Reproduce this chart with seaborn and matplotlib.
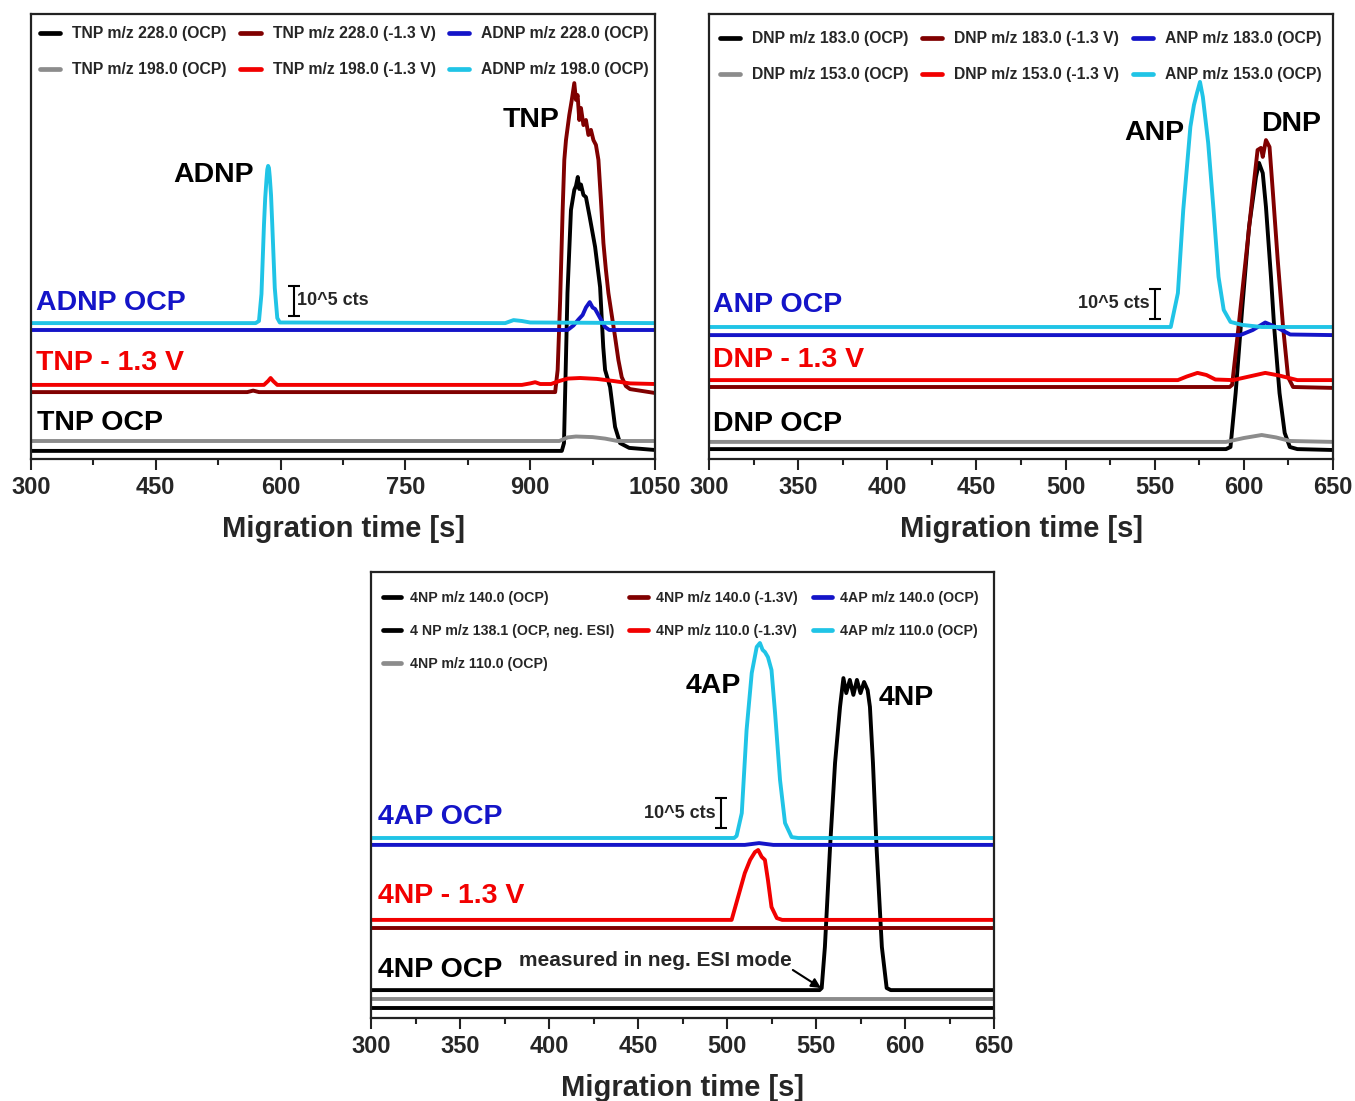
import matplotlib
matplotlib.use("Agg")
import matplotlib.pyplot as plt
import seaborn as sns
import pandas as pd

sns.set_style("ticks")
plt.rcParams["font.family"] = ["Liberation Sans", "DejaVu Sans"]
plt.rcParams["font.weight"] = "bold"

# ---- colours -------------------------------------------------------------
BLACK = "#000000"
GRAY = "#8c8c8c"
DARKRED = "#800000"
RED = "#f20000"
BLUE = "#1414c8"
CYAN = "#20c4e6"

# ---- panel A: TNP / ADNP (signal in 10^5 cts, stacked with offsets) -------
tnp228_ocp_t = [300, 938, 940.6, 944.8, 949, 953, 955, 957.2, 959, 961, 964, 967, 971.5,
                978, 984, 987.8, 990, 996, 1002, 1008, 1019, 1050]
tnp228_ocp_y = [0.27, 0.27, 0.53, 5.53, 8.3, 8.97, 9.1, 9.4, 9.0, 9.15, 8.8, 8.73, 8.07,
                7.07, 5.73, 3.73, 2.97, 2.4, 1.07, 0.53, 0.37, 0.3]
tnp198_ocp_t = [300, 935, 945, 955, 975, 990, 1005, 1050]
tnp198_ocp_y = [0.6, 0.6, 0.72, 0.75, 0.73, 0.68, 0.6, 0.6]
tnp228_red_t = [300, 560, 567, 574, 930, 933, 936, 939, 941, 943, 947, 950, 953, 955, 957,
                959, 961, 964, 967, 970, 973, 976, 979, 982, 985, 988, 991, 994, 998,
                1002, 1006, 1010, 1015, 1020, 1050]
tnp228_red_y = [2.23, 2.23, 2.28, 2.23, 2.23, 2.97, 5.3, 8.3, 9.97, 10.63, 11.47, 11.97, 12.53,
                11.97, 12.13, 11.3, 11.7, 11.13, 11.3, 10.8, 10.97, 10.63, 10.47, 9.97,
                8.63, 7.2, 6.3, 5.53, 4.8, 4.07, 3.3, 2.73, 2.43, 2.33, 2.2]
tnp198_red_t = [300, 580, 585, 588, 591, 596, 890, 900, 906, 912, 925, 935, 945, 960, 980,
                1000, 1020, 1050]
tnp198_red_y = [2.47, 2.47, 2.6, 2.7, 2.6, 2.47, 2.47, 2.52, 2.56, 2.5, 2.5, 2.6, 2.68, 2.7,
                2.67, 2.6, 2.52, 2.5]
adnp228_t = [300, 945, 952, 958, 963, 967, 971.5, 975, 978, 982, 986, 990, 995, 1050]
adnp228_y = [4.3, 4.3, 4.45, 4.65, 4.8, 5.05, 5.23, 5.05, 5.0, 4.8, 4.6, 4.4, 4.3, 4.3]
adnp198_t = [300, 570, 574, 577, 580, 581.5, 583, 584, 585, 586, 587, 588.5, 590, 593, 596,
             599, 870, 880, 890, 900, 1050]
adnp198_y = [4.53, 4.53, 4.6, 5.5, 7.8, 8.7, 9.3, 9.65, 9.77, 9.7, 9.4, 8.8, 7.8, 5.7, 4.7,
             4.55, 4.53, 4.63, 4.6, 4.55, 4.53]

# ---- panel B: DNP / ANP ---------------------------------------------------
dnp183_ocp_t = [300, 590, 592.5, 595.4, 599, 602.9, 606.8, 608.5, 610.6, 612.4, 615.2, 617,
                620, 622.9, 625.8, 630, 650]
dnp183_ocp_y = [0.33, 0.33, 0.4, 2.2, 4.97, 7.73, 9.4, 9.87, 9.53, 8.4, 6.07, 4.4, 2.2, 0.87,
                0.4, 0.33, 0.3]
dnp153_ocp_t = [300, 590, 600, 610, 618, 626, 650]
dnp153_ocp_y = [0.57, 0.57, 0.7, 0.8, 0.72, 0.6, 0.57]
dnp183_red_t = [300, 592, 593.4, 597, 601, 605, 607.7, 609.6, 610.6, 612.4, 614.4, 616.3, 619,
                622, 624.8, 627.6, 650]
dnp183_red_y = [2.4, 2.4, 2.47, 4.4, 6.63, 8.87, 10.3, 10.37, 10.07, 10.63, 10.4, 8.87, 6.63,
                4.4, 2.73, 2.4, 2.37]
dnp153_red_t = [300, 563, 568, 574, 579, 584, 594, 603, 612, 620, 630, 650]
dnp153_red_y = [2.63, 2.63, 2.75, 2.87, 2.8, 2.65, 2.63, 2.75, 2.87, 2.78, 2.63, 2.63]
anp183_t = [300, 598, 605, 612, 618, 626, 650]
anp183_y = [4.13, 4.13, 4.3, 4.55, 4.4, 4.15, 4.13]
anp153_t = [300, 559, 563, 566, 570, 572, 573.7, 575.4, 577, 580, 583, 585.8, 588.7, 592.5,
            599, 610, 650]
anp153_y = [4.4, 4.4, 5.53, 8.3, 11.07, 11.8, 12.2, 12.57, 12.07, 10.53, 8.3, 6.07, 4.97,
            4.57, 4.47, 4.4, 4.4]

# ---- panel C: 4NP / 4AP ---------------------------------------------------
np140_ocp_t = [300, 650]
np140_ocp_y = [0.33, 0.33]
np138_neg_t = [300, 552, 553.2, 555, 557.9, 560.7, 563.5, 565.4, 567, 569, 571, 573, 575, 577,
               579, 580.3, 582, 584, 587, 589.7, 592, 650]
np138_neg_y = [0.93, 0.93, 1.0, 2.37, 5.7, 8.5, 10.37, 11.33, 10.83, 11.27, 10.77, 11.27,
               10.83, 11.2, 10.93, 10.37, 8.5, 5.7, 2.37, 1.0, 0.93, 0.93]
np110_ocp_t = [300, 650]
np110_ocp_y = [0.63, 0.63]
np140_red_t = [300, 650]
np140_red_y = [3.0, 3.0]
np110_red_t = [300, 502.6, 506.2, 510, 513, 515.7, 517.5, 519.5, 521.3, 523, 525, 528, 531,
               650]
np110_red_y = [3.27, 3.27, 4.03, 4.83, 5.27, 5.53, 5.6, 5.37, 5.27, 4.6, 3.7, 3.33, 3.27,
               3.27]
ap140_t = [300, 510, 518, 526, 650]
ap140_y = [5.77, 5.77, 5.83, 5.77, 5.77]
ap110_t = [300, 504, 505.4, 508.3, 511, 513.9, 516.7, 518.5, 520, 521.3, 523, 525, 527, 529.8,
           532.6, 536.3, 540, 650]
ap110_y = [6.0, 6.0, 6.07, 6.83, 9.6, 11.5, 12.37, 12.5, 12.27, 12.2, 12.03, 11.6, 10.17,
           7.93, 6.5, 6.03, 6.0, 6.0]

panel_a = [
    ("TNP m/z 228.0 (OCP)", tnp228_ocp_t, tnp228_ocp_y, BLACK),
    ("TNP m/z 198.0 (OCP)", tnp198_ocp_t, tnp198_ocp_y, GRAY),
    ("TNP m/z 228.0 (-1.3 V)", tnp228_red_t, tnp228_red_y, DARKRED),
    ("TNP m/z 198.0 (-1.3 V)", tnp198_red_t, tnp198_red_y, RED),
    ("ADNP m/z 228.0 (OCP)", adnp228_t, adnp228_y, BLUE),
    ("ADNP m/z 198.0 (OCP)", adnp198_t, adnp198_y, CYAN),
]
panel_b = [
    ("DNP m/z 183.0 (OCP)", dnp183_ocp_t, dnp183_ocp_y, BLACK),
    ("DNP m/z 153.0 (OCP)", dnp153_ocp_t, dnp153_ocp_y, GRAY),
    ("DNP m/z 183.0 (-1.3 V)", dnp183_red_t, dnp183_red_y, DARKRED),
    ("DNP m/z 153.0 (-1.3 V)", dnp153_red_t, dnp153_red_y, RED),
    ("ANP m/z 183.0 (OCP)", anp183_t, anp183_y, BLUE),
    ("ANP m/z 153.0 (OCP)", anp153_t, anp153_y, CYAN),
]
panel_c = [
    ("4NP m/z 140.0 (OCP)", np140_ocp_t, np140_ocp_y, BLACK),
    ("4 NP m/z 138.1 (OCP, neg. ESI)", np138_neg_t, np138_neg_y, BLACK),
    ("4NP m/z 110.0 (OCP)", np110_ocp_t, np110_ocp_y, GRAY),
    ("4NP m/z 140.0 (-1.3V)", np140_red_t, np140_red_y, DARKRED),
    ("4NP m/z 110.0 (-1.3V)", np110_red_t, np110_red_y, RED),
    ("4AP m/z 140.0 (OCP)", ap140_t, ap140_y, BLUE),
    ("4AP m/z 110.0 (OCP)", ap110_t, ap110_y, CYAN),
]

W, H = 1355, 1101
fig = plt.figure(figsize=(W / 100, H / 100), dpi=100)
ax_a = fig.add_axes([31 / W, 1 - 459 / H, 624 / W, 445 / H])
ax_b = fig.add_axes([709 / W, 1 - 459 / H, 624 / W, 445 / H])
ax_c = fig.add_axes([371 / W, 1 - 1018 / H, 623 / W, 446 / H])


def draw_traces(ax, traces, legend_size, anchor, labelspacing, handletextpad,
                columnspacing):
    names = []
    for name, t, y, color in traces:
        df = pd.DataFrame({"time": t, "signal": y})
        sns.lineplot(data=df, x="time", y="signal", color=color, linewidth=2.8,
                     label=name, sort=False, estimator=None, ax=ax)
        names.append(name)
    handles, labels = ax.get_legend_handles_labels()
    lookup = dict(zip(labels, handles))
    leg = ax.legend([lookup[n] for n in names], names, ncol=3, loc="upper left",
                    bbox_to_anchor=anchor, frameon=False, borderaxespad=0, borderpad=0,
                    handlelength=1.3, handletextpad=handletextpad,
                    columnspacing=columnspacing, labelspacing=labelspacing,
                    prop={"size": legend_size, "weight": "bold"})
    for h in leg.get_lines():
        h.set_linewidth(3.4)


def style_axis(ax, xmin, xmax, major, ymax):
    ax.set_xlim(xmin, xmax)
    ax.set_ylim(0, ymax)
    ax.set_xticks(range(xmin, xmax + 1, major))
    ax.set_xticks(range(xmin, xmax + 1, major // 2), minor=True)
    ax.set_yticks([])
    ax.set_ylabel("")
    ax.set_xlabel("Migration time [s]", fontsize=21, fontweight="bold", labelpad=12)
    ax.tick_params(axis="x", which="major", direction="out", length=8, width=1.5,
                   labelsize=17, pad=4, color="#222222")
    ax.tick_params(axis="x", which="minor", direction="out", length=4.5, width=1.5,
                   color="#222222")
    for lab in ax.get_xticklabels():
        lab.set_fontweight("bold")
    for sp in ax.spines.values():
        sp.set_visible(True)
        sp.set_linewidth(1.6)
        sp.set_color("#222222")


def scale_bar(ax, x, y0, text, side):
    span = ax.get_xlim()[1] - ax.get_xlim()[0]
    ax.errorbar([x], [y0 + 0.5], yerr=[0.5], color="black", capsize=4, elinewidth=1.5,
                capthick=1.5, fmt="none")
    if side == "right":
        ax.text(x + span * 0.005, y0 + 0.5, text, ha="left", va="center", fontsize=13,
                fontweight="bold")
    else:
        ax.text(x - span * 0.009, y0 + 0.5, text, ha="right", va="center", fontsize=13,
                fontweight="bold")


label_kw = dict(fontsize=20.5, fontweight="bold", va="center")

# Panel A
draw_traces(ax_a, panel_a, 11.3, (0.0145, 0.973), 1.34, 0.76, 0.85)
style_axis(ax_a, 300, 1050, 150, 445 / 30)
scale_bar(ax_a, 616, 4.77, "10^5 cts", "right")
ax_a.text(520, 9.47, "ADNP", ha="center", color="black", **label_kw)
ax_a.text(901, 11.3, "TNP", ha="center", color="black", **label_kw)
ax_a.text(306, 5.2, "ADNP OCP", ha="left", color=BLUE, **label_kw)
ax_a.text(306, 3.2, "TNP - 1.3 V", ha="left", color=RED, **label_kw)
ax_a.text(307.5, 1.2, "TNP OCP", ha="left", color="black", **label_kw)

# Panel B
draw_traces(ax_b, panel_b, 11.3, (0.0175, 0.961), 1.34, 0.76, 0.85)
style_axis(ax_b, 300, 650, 50, 445 / 30)
scale_bar(ax_b, 550.2, 4.67, "10^5 cts", "left")
ax_b.text(549.6, 10.87, "ANP", ha="center", color="black", **label_kw)
ax_b.text(626.4, 11.17, "DNP", ha="center", color="black", **label_kw)
ax_b.text(302.2, 5.13, "ANP OCP", ha="left", color=BLUE, **label_kw)
ax_b.text(302.2, 3.3, "DNP - 1.3 V", ha="left", color=RED, **label_kw)
ax_b.text(302.2, 1.17, "DNP OCP", ha="left", color="black", **label_kw)

# Panel C
draw_traces(ax_c, panel_c, 10.2, (0.0185, 0.958), 1.36, 0.63, 1.05)
style_axis(ax_c, 300, 650, 50, 446 / 30)
scale_bar(ax_c, 496.6, 6.33, "10^5 cts", "left")
ax_c.text(492.1, 11.07, "4AP", ha="center", color="black", **label_kw)
ax_c.text(600.6, 10.67, "4NP", ha="center", color="black", **label_kw)
ax_c.text(303.9, 6.7, "4AP OCP", ha="left", color=BLUE, **label_kw)
ax_c.text(303.9, 4.07, "4NP - 1.3 V", ha="left", color=RED, **label_kw)
ax_c.text(303.9, 1.6, "4NP OCP", ha="left", color="black", **label_kw)
ax_c.text(383, 1.93, "measured in neg. ESI mode", ha="left", va="center", fontsize=15,
          fontweight="bold")
ax_c.annotate("", xy=(552.8, 1.0), xytext=(537, 1.6),
              arrowprops=dict(arrowstyle="-|>", color="black", lw=1.5,
                              mutation_scale=14, shrinkA=0, shrinkB=0))

fig.savefig("out.png", dpi=100, facecolor="white")
